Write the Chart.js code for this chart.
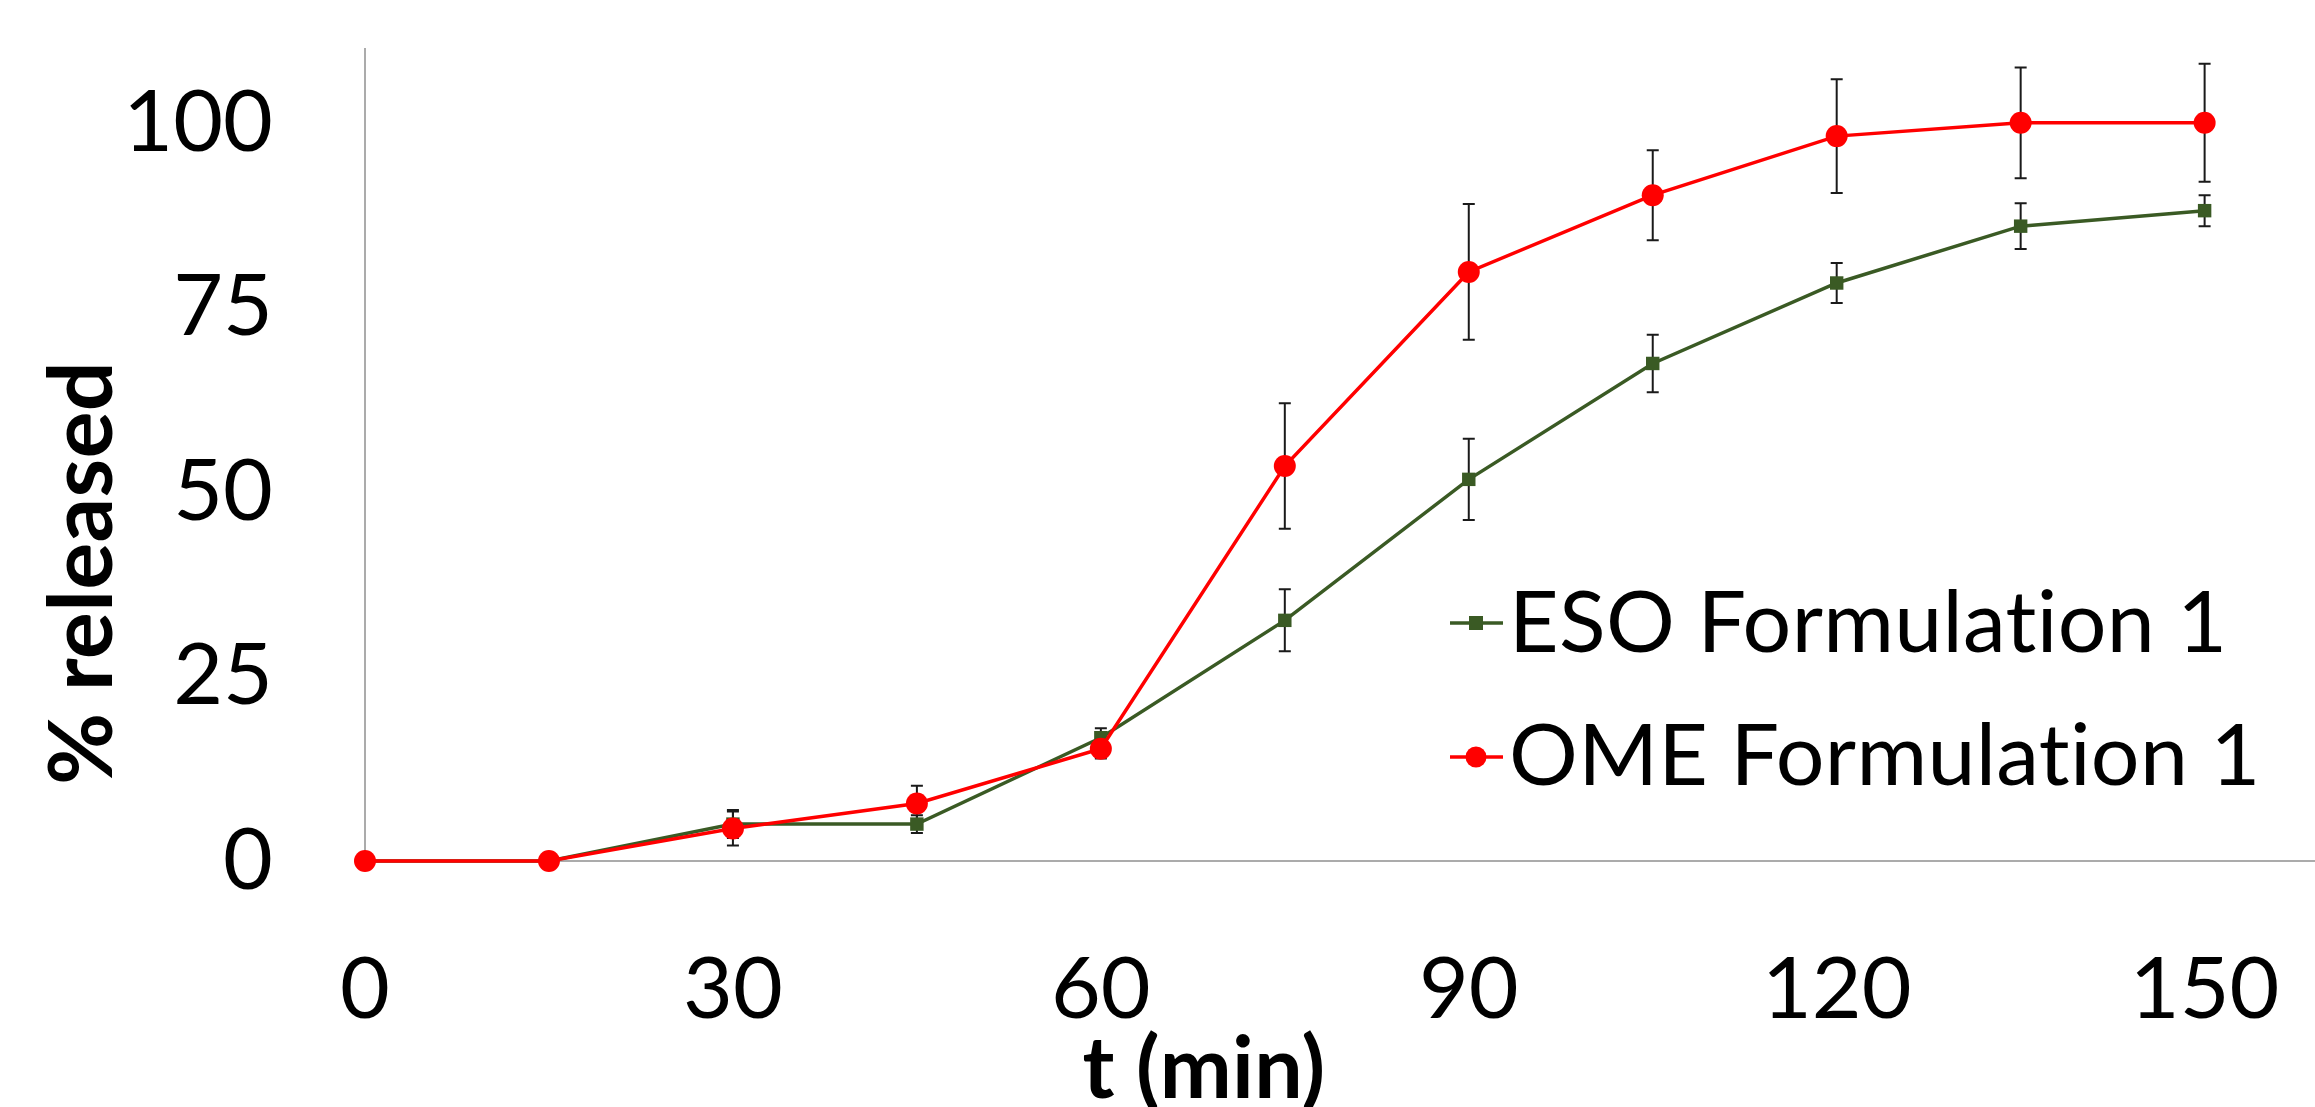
<!DOCTYPE html>
<html><head><meta charset="utf-8">
<script src="https://cdn.jsdelivr.net/npm/chart.js@4.4.0/dist/chart.umd.min.js"></script>
<style>html,body{margin:0;padding:0;background:#fff;overflow:hidden}</style>
</head><body>
<canvas id="c" width="2315" height="1107"></canvas>
<script>
// ---- data ----
const times = [0, 15, 30, 45, 60, 75, 90, 105, 120, 135, 150];
const esoValues = [0, 0, 5.0, 5.0, 16.7, 32.6, 51.7, 67.4, 78.3, 86.0, 88.1];
const esoErrors = [0, 0, 1.9, 1.2, 1.3, 4.2, 5.5, 3.9, 2.7, 3.1, 2.1];
const omeValues = [0, 0, 4.4, 7.8, 15.2, 53.5, 79.8, 90.2, 98.2, 100, 100];
const omeErrors = [0, 0, 2.3, 2.4, 1.3, 8.5, 9.2, 6.1, 7.7, 7.5, 8.0];
const xTickValues = [0, 30, 60, 90, 120, 150];
const yTickValues = [0, 25, 50, 75, 100];
const seriesLabels = ['ESO Formulation 1', 'OME Formulation 1'];
const xTitle = 't (min)';
const yTitle = '% released';

const FONT = 'Lato, Carlito, Calibri, sans-serif';
const GREEN = '#3A5A24';
const RED = '#FF0000';

const toPts = (vals, errs) => vals.map((v, i) => ({x: times[i], y: v, err: errs[i]}));

const errorBars = {
  id: 'errorBars',
  beforeDatasetsDraw(chart) {
    const {ctx, scales: {x, y}} = chart;
    ctx.save();
    ctx.strokeStyle = '#1a1a1a';
    ctx.lineWidth = 2;
    chart.data.datasets.forEach(ds => {
      ds.data.forEach(p => {
        if (!p.err) return;
        const px = x.getPixelForValue(p.x);
        const top = y.getPixelForValue(p.y + p.err);
        const bot = y.getPixelForValue(p.y - p.err);
        ctx.beginPath();
        ctx.moveTo(px, top); ctx.lineTo(px, bot);
        ctx.moveTo(px - 6, top); ctx.lineTo(px + 6, top);
        ctx.moveTo(px - 6, bot); ctx.lineTo(px + 6, bot);
        ctx.stroke();
      });
    });
    ctx.restore();
  }
};

const decorations = {
  id: 'decorations',
  afterDraw(chart) {
    const {ctx} = chart;
    ctx.save();
    try { ctx.letterSpacing = '0.3px'; } catch (e) {}
    // axis titles
    ctx.fillStyle = '#000';
    ctx.font = 'bold 86px ' + FONT;
    ctx.textAlign = 'center';
    ctx.textBaseline = 'alphabetic';
    ctx.fillText(xTitle, 1204, 1098);
    ctx.save();
    ctx.translate(112, 573);
    ctx.rotate(-Math.PI / 2);
    ctx.font = 'bold 88px ' + FONT;
    ctx.fillText(yTitle, 0, 0);
    ctx.restore();
    // legend
    const rows = [{y: 623, base: 652}, {y: 757, base: 785}];
    chart.data.datasets.slice().sort((a, b) => a.legendIndex - b.legendIndex).forEach((ds, i) => {
      const r = rows[i];
      ctx.strokeStyle = ds.borderColor;
      ctx.lineWidth = 3.5;
      ctx.beginPath();
      ctx.moveTo(1450, r.y); ctx.lineTo(1503, r.y);
      ctx.stroke();
      ctx.fillStyle = ds.pointBackgroundColor;
      if (ds.pointStyle === 'rect') {
        ctx.fillRect(1476 - 7, r.y - 7, 14, 14);
      } else {
        ctx.beginPath();
        ctx.arc(1476, r.y, 10.5, 0, Math.PI * 2);
        ctx.fill();
      }
      ctx.fillStyle = '#000';
      ctx.font = '86px ' + FONT;
      ctx.textAlign = 'left';
      ctx.fillText(ds.label, 1509, r.base);
    });
    ctx.restore();
  }
};

new Chart(document.getElementById('c'), {
  type: 'line',
  data: {
    datasets: [
      {
        label: seriesLabels[0], legendIndex: 0, order: 1, clip: false,
        data: toPts(esoValues, esoErrors),
        borderColor: GREEN, backgroundColor: GREEN,
        pointBackgroundColor: GREEN, pointBorderColor: GREEN,
        borderWidth: 3.5, pointStyle: 'rect', pointRadius: 9.5, pointBorderWidth: 0,
        tension: 0
      },
      {
        label: seriesLabels[1], legendIndex: 1, order: 0, clip: false,
        data: toPts(omeValues, omeErrors),
        borderColor: RED, backgroundColor: RED,
        pointBackgroundColor: RED, pointBorderColor: RED,
        borderWidth: 3.5, pointStyle: 'circle', pointRadius: 11, pointBorderWidth: 0,
        tension: 0
      }
    ]
  },
  options: {
    responsive: false,
    animation: false,
    devicePixelRatio: 1,
    layout: {autoPadding: false, padding: {left: 0, right: 0, top: 49, bottom: 0}},
    plugins: {legend: {display: false}, tooltip: {enabled: false}},
    scales: {
      x: {
        type: 'linear', min: 0, max: 159,
        afterBuildTicks: s => { s.ticks = xTickValues.map(v => ({value: v})); },
        afterFit: s => { s.height = 246; s.paddingLeft = 0; s.paddingRight = 0; },
        grid: {display: false, drawTicks: false},
        border: {display: true, color: '#ABABAB', width: 2},
        ticks: {font: {family: FONT, size: 86}, color: '#000', padding: 78, maxRotation: 0, autoSkip: false}
      },
      y: {
        type: 'linear', min: 0, max: 110,
        afterBuildTicks: s => { s.ticks = yTickValues.map(v => ({value: v})); },
        afterFit: s => { s.width = 365; s.paddingTop = 0; s.paddingBottom = 0; },
        grid: {display: false, drawTicks: false},
        border: {display: true, color: '#ABABAB', width: 2},
        ticks: {font: {family: FONT, size: 86}, color: '#000', padding: 92}
      }
    }
  },
  plugins: [errorBars, decorations]
});
</script>
</body></html>
